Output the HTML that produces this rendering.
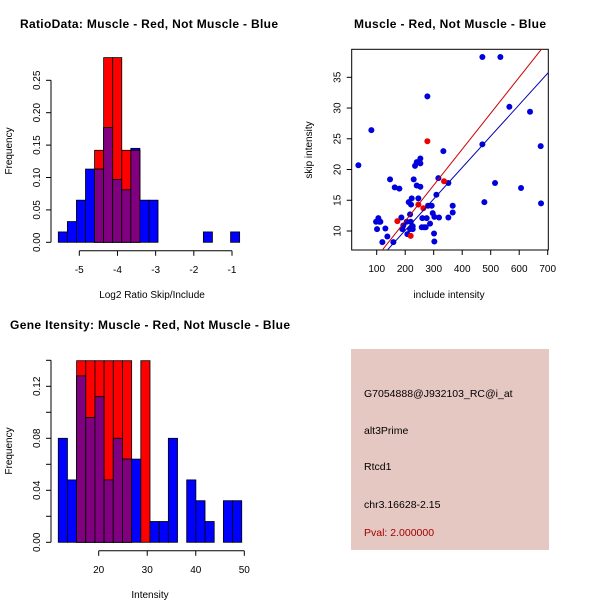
<!DOCTYPE html>
<html><head><meta charset="utf-8"><style>
html,body{margin:0;padding:0;background:#fff;}
svg{display:block;font-family:"Liberation Sans",sans-serif;}
</style></head><body>
<svg id="chart" width="600" height="600" viewBox="0 0 600 600" xmlns="http://www.w3.org/2000/svg">
<text x="20" y="28" font-size="12" font-weight="bold" textLength="258">RatioData: Muscle - Red, Not Muscle - Blue</text>
<text x="450" y="28" font-size="12" font-weight="bold" text-anchor="middle" textLength="192">Muscle - Red, Not Muscle - Blue</text>
<text x="10" y="329" font-size="12" font-weight="bold" textLength="280">Gene Itensity: Muscle - Red, Not Muscle - Blue</text>
<text x="152" y="298" font-size="10" text-anchor="middle">Log2 Ratio Skip/Include</text>
<text transform="translate(12,151) rotate(-90)" font-size="10" text-anchor="middle">Frequency</text>
<text x="449" y="298" font-size="10" text-anchor="middle">include intensity</text>
<text transform="translate(312,150) rotate(-90)" font-size="10" text-anchor="middle">skip intensity</text>
<text x="150" y="598" font-size="10" text-anchor="middle">Intensity</text>
<text transform="translate(12,451) rotate(-90)" font-size="10" text-anchor="middle">Frequency</text>
<g>
<rect x="351" y="349" width="198" height="201" fill="#e6c8c2"/>
<text x="364" y="397" font-size="10.5">G7054888@J932103_RC@i_at</text>
<text x="364" y="434" font-size="10.5">alt3Prime</text>
<text x="364" y="470" font-size="10.5">Rtcd1</text>
<text x="364" y="508" font-size="10.5">chr3.16628-2.15</text>
<text x="364" y="536" font-size="10.5" fill="#a00000">Pval: 2.000000</text>
</g>
</svg>
<script>
// ---- Histogram 1 data ----
const ratioBinStart = -5.55;
const ratioBinWidth = 0.2375;
const ratioBlue = [0.016,0.032,0.065,0.113,0.113,0.177,0.097,0.081,0.145,0.065,0.065,0,0,0,0,0,0.016,0,0,0.016];
const ratioRed  = [0,0,0,0,0.142,0.285,0.285,0.142,0.142,0,0,0,0,0,0,0,0,0,0,0];
const ratioXTicks = [-5,-4,-3,-2,-1];
const ratioYTicks = [0,0.05,0.10,0.15,0.20,0.25];
const ratioYLabels = ["0.00","0.05","0.10","0.15","0.20","0.25"];
// ---- Scatter data ----
const blueInclude = [35.7,81.3,470.8,533.9,277.8,565.5,638,470.8,333.9,675.4,234.5,240.4,253.2,253.2,229.8,146.8,163.2,179.5,240.4,253.2,246.2,222.8,212.3,220.5,316.4,309.4,280.1,260.2,275.4,293.0,296.5,302.3,186.6,105.8,109.4,97.7,112.9,101.2,130.4,137.4,119.9,158.5,193.6,190.1,207.6,217.0,219.3,226.3,226.3,217.0,205.3,257.9,266.1,272.0,287.1,301.2,302.3,318.7,351.5,366.7,366.7,477.8,515.2,606.4,676.6,351.5];
const blueSkip = [20.7,26.4,38.3,38.3,31.9,30.2,29.4,24.1,23.0,23.8,20.6,21.2,21.8,21.0,18.4,18.4,17.1,16.9,17.4,17.2,15.3,15.3,14.7,14.3,18.6,15.9,14.1,12.1,12.1,14.1,12.9,12.3,12.2,12.1,11.5,11.5,11.5,10.3,10.4,9.1,8.2,8.2,10.9,10.3,9.5,10.3,11.5,10.8,10.3,12.7,11.5,10.6,10.6,10.6,11.2,9.6,8.3,12.2,12.2,14.1,13.0,14.7,17.8,17.0,14.5,17.8];
const redInclude = [277.8,336.3,246.2,263.7,172.5,219.3];
const redSkip = [24.6,18.1,14.3,13.7,11.6,9.2];
const redFit = [-0.1,0.0585];   // intercept, slope
const blueFit = [-0.12,0.0511];
const scatterXTicks = [100,200,300,400,500,600,700];
const scatterYTicks = [10,15,20,25,30,35];
// ---- Histogram 2 data ----
const intBinStart = 11.67;
const intBinWidth = 1.89;
const intBlue = [0.08,0.048,0.128,0.096,0.112,0.048,0.08,0.064,0.064,0,0.016,0.016,0.08,0,0.048,0.032,0.016,0,0.032,0.032];
const intRed  = [0,0,0.16,0.16,0.16,0.16,0.16,0.16,0,0.16,0,0,0,0,0,0,0,0,0,0];
const intXTicks = [20,30,40,50];
const intYTicks = [0,0.02,0.04,0.06,0.08,0.10,0.12,0.14];
const intYLabels = ["0.00","","0.04","","0.08","","0.12",""];

const svg = document.getElementById('chart');
const NS = 'http://www.w3.org/2000/svg';
function mk(tag, attrs, parent){
  const e = document.createElementNS(NS, tag);
  for (const k in attrs) e.setAttribute(k, attrs[k]);
  (parent||svg).appendChild(e);
  return e;
}
function lin(d0,d1,p0,p1){ return v => p0 + (v-d0)*(p1-p0)/(d1-d0); }

function histogram(prefix, binStart, binW, blue, red, xs, ys, xTicks, yTicks, yLabels, clipTop){
  const g = mk('g', {});
  
  
  const y0 = ys(0);
  for (let i=0;i<blue.length;i++){
    const xl = xs(binStart + i*binW), xr = xs(binStart + (i+1)*binW);
    const layers = [];
    if (red[i] > 0) layers.push(['#ff0000', red[i], 'red']);
    if (blue[i] > 0) layers.push(['#0000ff', blue[i], 'blue']);
    if (red[i] > 0 && blue[i] > 0) layers.push(['#800080', Math.min(red[i], blue[i]), 'overlap']);
    layers.sort((a,b)=> (a[2]==='overlap') - (b[2]==='overlap') || b[1]-a[1]);
    for (const L of layers){
      let top = ys(L[1]);
      if (clipTop !== null && top < clipTop) top = clipTop;
      const r = mk('rect', {x:xl, y:top, width:xr-xl, height:y0-top, fill:L[0], stroke:'#000', 'stroke-width':0.8}, g);
      
      
    }
  }
  const xa = mk('g', {});
  
  
  const ay = y0 + 8.5;
  mk('line', {x1:xs(xTicks[0]), x2:xs(xTicks[xTicks.length-1]), y1:ay, y2:ay, stroke:'#000'}, xa);
  for (const t of xTicks){
    mk('line', {x1:xs(t), x2:xs(t), y1:ay, y2:ay+5, stroke:'#000'}, xa);
    const tx = mk('text', {x:xs(t), y:ay+22, 'font-size':10, 'text-anchor':'middle'}, xa);
    tx.textContent = t;
  }
  const ya = mk('g', {});
  
  
  const ax = 51;
  mk('line', {x1:ax, x2:ax, y1:ys(yTicks[0]), y2:ys(yTicks[yTicks.length-1]), stroke:'#000'}, ya);
  yTicks.forEach((t,i)=>{
    mk('line', {x1:ax-5, x2:ax, y1:ys(t), y2:ys(t), stroke:'#000'}, ya);
    if (yLabels[i]) {
      const tx = mk('text', {transform:`translate(${ax-11},${ys(t)}) rotate(-90)`, 'font-size':10, 'text-anchor':'middle'}, ya);
      tx.textContent = yLabels[i];
    }
  });
}

histogram('ratio', ratioBinStart, ratioBinWidth, ratioBlue, ratioRed,
  lin(-5,-1,79.3,232), lin(0,0.25,242.3,80.3), ratioXTicks, ratioYTicks, ratioYLabels, null);
histogram('intensity', intBinStart, intBinWidth, intBlue, intRed,
  lin(20,50,98.7,244.3), lin(0,0.12,542.3,386.3), intXTicks, intYTicks, intYLabels, 360.7);

(function(){
  const xs = lin(100,700,376.7,547.7), ys = lin(10,35,231,77.3);
  const L=351.7, R=548.3, T=49.3, B=250;
  const g = mk('g', {});
  
  
  mk('clipPath', {id:'sc'}, g);
  mk('rect', {x:L, y:T, width:R-L, height:B-T}, g.lastChild);
  const box = mk('rect', {x:L, y:T, width:R-L, height:B-T, fill:'none', stroke:'#000'}, g);
  
  
  for (let i=0;i<blueInclude.length;i++){
    const c = mk('circle', {cx:xs(blueInclude[i]), cy:ys(blueSkip[i]), r:3, fill:'#0000dd'}, g);
    
    
  }
  for (let i=0;i<redInclude.length;i++){
    const c = mk('circle', {cx:xs(redInclude[i]), cy:ys(redSkip[i]), r:3, fill:'#ee0000'}, g);
    
    
  }
  const fits = [[redFit,'#cc0000','red-fit-line'],[blueFit,'#0000aa','blue-fit-line']];
  for (const f of fits){
    const xa = 0, xb = 800;
    const ln = mk('line', {x1:xs(xa), y1:ys(f[0][0]+f[0][1]*xa), x2:xs(xb), y2:ys(f[0][0]+f[0][1]*xb), stroke:f[1], 'stroke-width':1, 'clip-path':'url(#sc)'}, g);
    
    
  }
  const xa = mk('g', {});
  
  
  for (const t of scatterXTicks){
    mk('line', {x1:xs(t), x2:xs(t), y1:B, y2:B+5, stroke:'#000'}, xa);
    const tx = mk('text', {x:xs(t), y:B+22, 'font-size':10, 'text-anchor':'middle'}, xa);
    tx.textContent = t;
  }
  const ya = mk('g', {});
  
  
  for (const t of scatterYTicks){
    mk('line', {x1:L-5, x2:L, y1:ys(t), y2:ys(t), stroke:'#000'}, ya);
    const tx = mk('text', {transform:`translate(${L-11},${ys(t)}) rotate(-90)`, 'font-size':10, 'text-anchor':'middle'}, ya);
    tx.textContent = t;
  }
})();
</script>
</body></html>
